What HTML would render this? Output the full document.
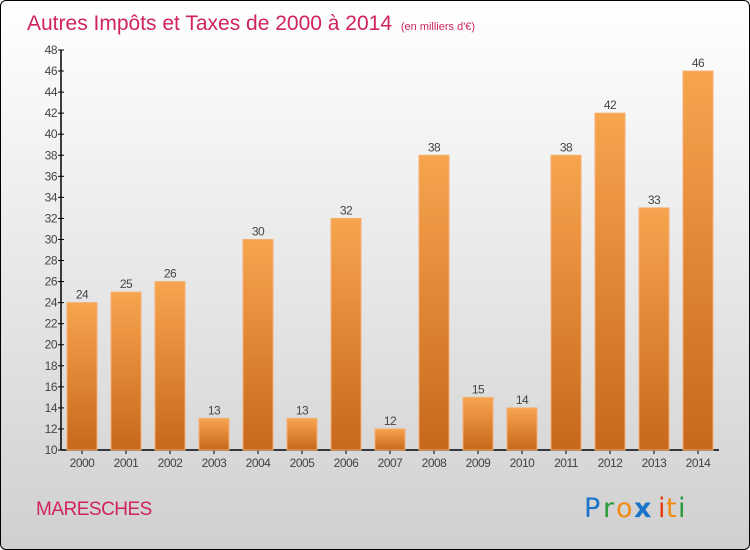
<!DOCTYPE html>
<html><head><meta charset="utf-8">
<style>
body{margin:0;}
#c{position:relative;width:748px;height:548px;border:1px solid #000;border-radius:6px;background:linear-gradient(#ffffff,#d0d0d0);overflow:hidden;font-family:"Liberation Sans",sans-serif;}
</style></head><body>
<div id="c">
<svg id="s" width="748" height="548" xmlns="http://www.w3.org/2000/svg">
<defs>
<linearGradient id="g" x1="0" y1="0" x2="0" y2="1"><stop offset="0" stop-color="#f7a44f"/><stop offset="1" stop-color="#c8681a"/></linearGradient>
</defs>
<text x="26" y="29" font-size="21" fill="#d0245a">Autres Impôts et Taxes de 2000 à 2014 <tspan font-size="11" dx="3">(en milliers d'€)</tspan></text>
<text x="35" y="514" font-size="19" fill="#d0245a" letter-spacing="-0.5">MARESCHES</text>
<g font-size="27" font-family="'DejaVu Sans',sans-serif">
<text x="583" y="516" fill="#1a73c8">P</text><text x="602" y="516" fill="#2a9a3a">r</text><text x="615" y="516" fill="#f08a10">o</text><text x="633" y="516" fill="#1a73c8" font-weight="bold">x</text><text x="657" y="516" fill="#e83a10">i</text><text x="665" y="516" fill="#f08a10">t</text><text x="677" y="516" fill="#2a9a3a">i</text>
</g>
<g id="axes"></g><g id="bars"></g>
</svg>
</div>
<script>
const years=["2000","2001","2002","2003","2004","2005","2006","2007","2008","2009","2010","2011","2012","2013","2014"];
const values=[24,25,26,13,30,13,32,12,38,15,14,38,42,33,46];
const yTicks=[10,12,14,16,18,20,22,24,26,28,30,32,34,36,38,40,42,44,46,48];
const NS="http://www.w3.org/2000/svg";
const y=v=>449-(v-10)*(400/38);
const x=i=>81+i*44;
function mk(t,a,p,txt){const e=document.createElementNS(NS,t);for(const k in a)e.setAttribute(k,a[k]);if(txt!==undefined)e.textContent=txt;p.appendChild(e);return e;}
const ax=document.getElementById('axes'),bg=document.getElementById('bars');
const yl=mk('line',{x1:60,y1:49,x2:60,y2:449,stroke:'#000','stroke-width':1.5},ax);


const xl=mk('line',{x1:60,y1:449,x2:718,y2:449,stroke:'#000','stroke-width':1.5},ax);


yTicks.forEach(v=>{
 mk('line',{x1:57,x2:63,y1:y(v),y2:y(v),stroke:'#000'},ax);
 const t=mk('text',{x:56,y:y(v)+4,'text-anchor':'end','font-size':12,fill:'#444','letter-spacing':-0.5},ax,v);
 
 
});
years.forEach((yr,i)=>{
 mk('line',{x1:x(i),x2:x(i),y1:449,y2:453,stroke:'#000'},ax);
 const t=mk('text',{x:x(i),y:466,'text-anchor':'middle','font-size':12,fill:'#444','letter-spacing':-0.5},ax,yr);
 
 
 const v=values[i];
 const r=mk('rect',{x:x(i)-15,y:y(v),width:30,height:449-y(v),fill:'url(#g)',stroke:'#f5b070','stroke-width':1},bg);
 
 
 const l=mk('text',{x:x(i),y:y(v)-4,'text-anchor':'middle','font-size':12,fill:'#444','letter-spacing':-0.5},bg,v);
 
 
});
</script>
</body></html>
